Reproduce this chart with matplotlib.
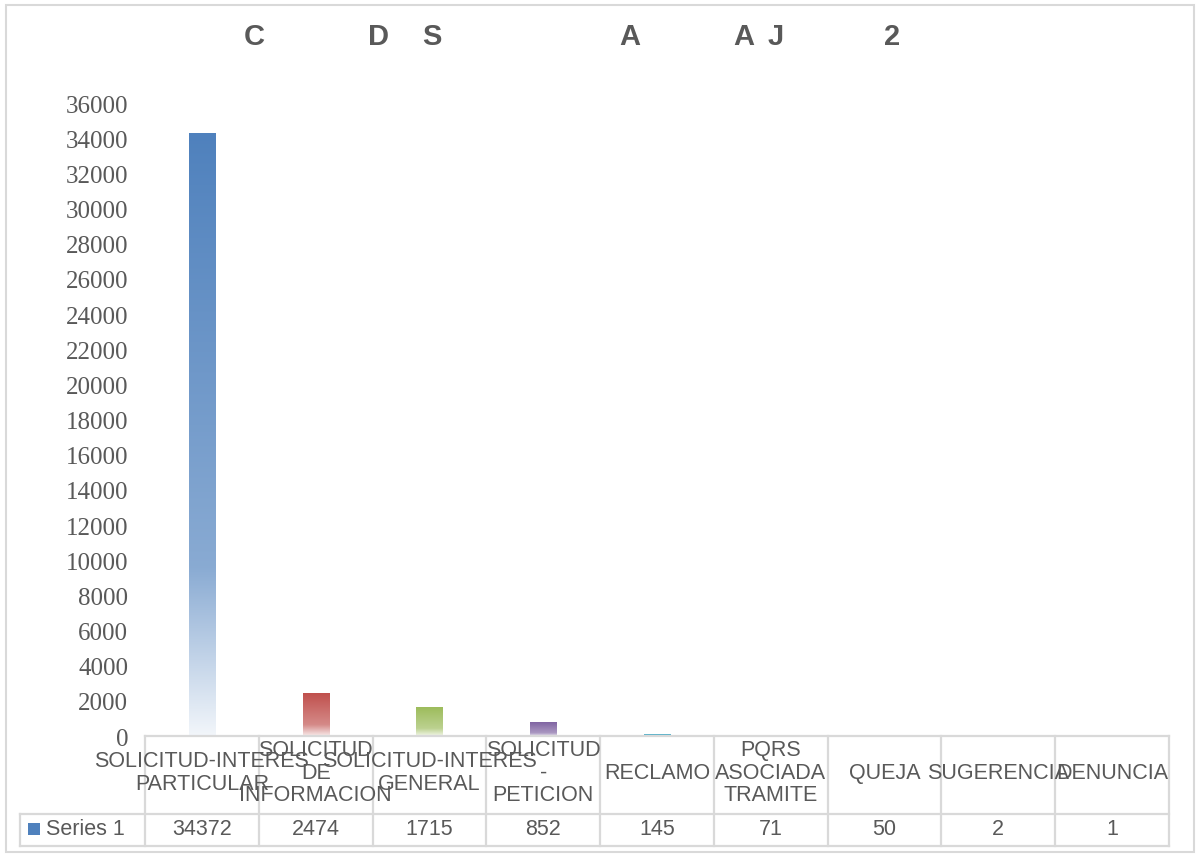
import numpy as np
import matplotlib
matplotlib.use("Agg")
import matplotlib.pyplot as plt
from matplotlib.patches import Rectangle
from matplotlib.colors import to_rgb
import matplotlib.transforms as mtransforms

# ---- data ----
categories = ["SOLICITUD-INTERES\nPARTICULAR", "SOLICITUD\nDE\nINFORMACION",
              "SOLICITUD-INTERES\nGENERAL", "SOLICITUD\n-\nPETICION", "RECLAMO",
              "PQRS\nASOCIADA\nTRAMITE", "QUEJA", "SUGERENCIA", "DENUNCIA"]
values = [34372, 2474, 1715, 852, 145, 71, 50, 2, 1]
series_name = "Series 1"
yticks = list(range(0, 36001, 2000))
title_letters = ["C", "D", "S", "A", "A", "J", "2"]

# ---- style ----
bar_colors = ["#4F81BD", "#C0504D", "#9BBB59", "#8064A2", "#4BACC6",
              "#F79646", "#2C4D75", "#772C2A", "#5F7530"]
title_x_px = [254, 378, 432, 630, 744, 776, 892]
TXT = "#595959"
GRID = "#D9D9D9"
W, H = 1196, 855

fig = plt.figure(figsize=(W / 100, H / 100), dpi=100)
fig.patch.set_facecolor("white")

def fx(px):
    return px / W

def fy(py):
    return 1 - py / H

ax_left, ax_right, ax_top, ax_bot = 145, 1169, 104, 737
ax = fig.add_axes([fx(ax_left), fy(ax_bot), fx(ax_right - ax_left), (ax_bot - ax_top) / H])
ax.set_facecolor("none")
n = len(values)
x = np.arange(n)
bw = 0.23

bars = ax.bar(x, values, width=bw, color="none", edgecolor="none")
for rect, c in zip(bars, bar_colors):
    base = np.array(to_rgb(c))
    t = np.linspace(0, 1, 256)  # 0 top -> 1 bottom
    f = np.interp(t, [0, 0.72, 1.0], [0.0, 0.33, 0.93])
    cols = base[None, :] * (1 - f[:, None]) + f[:, None]
    img = cols[:, None, :]
    x0 = rect.get_x()
    h = rect.get_height()
    im = ax.imshow(img, extent=[x0, x0 + rect.get_width(), 0, h], aspect="auto",
                   origin="upper", zorder=2, interpolation="bilinear")
    clip = Rectangle((x0, 0), rect.get_width(), h, transform=ax.transData)
    im.set_clip_path(clip)

ax.set_xlim(-0.5, n - 0.5)
ax.set_ylim(0, 36000)
ax.set_yticks(yticks)
ax.set_yticklabels([str(v) for v in yticks], fontfamily="Liberation Serif",
                   fontsize=18, color=TXT)
ax.tick_params(axis="y", length=0, pad=12)
ax.set_xticks([])
for s in ax.spines.values():
    s.set_visible(False)

# ---- data table ----
tr = mtransforms.blended_transform_factory(ax.transData, fig.transFigure)
row_top, row_mid, row_bot = 736, 814, 846
lw = 1.6
fig.add_artist(plt.Line2D([-0.5, n - 0.5], [fy(row_top)] * 2, transform=tr, color=GRID, lw=lw))
fig.add_artist(plt.Line2D([fx(20), fx(ax_right)], [fy(row_mid)] * 2, transform=fig.transFigure, color=GRID, lw=lw))
fig.add_artist(plt.Line2D([fx(20), fx(ax_right)], [fy(row_bot)] * 2, transform=fig.transFigure, color=GRID, lw=lw))
for i in range(n + 1):
    fig.add_artist(plt.Line2D([i - 0.5, i - 0.5], [fy(row_top), fy(row_bot)], transform=tr, color=GRID, lw=lw))
fig.add_artist(plt.Line2D([fx(20), fx(20)], [fy(row_mid), fy(row_bot)], transform=fig.transFigure, color=GRID, lw=lw))

for i, (lab, v) in enumerate(zip(categories, values)):
    fig.text(i, fy(773), lab, transform=tr, ha="center", va="center",
             fontsize=15.5, color=TXT, fontfamily="Liberation Sans", linespacing=1.1,
             multialignment="center")
    fig.text(i, fy(829), str(v), transform=tr, ha="center", va="center",
             fontsize=15.5, color=TXT, fontfamily="Liberation Sans")

fig.add_artist(Rectangle((fx(28), fy(835)), fx(12), 12 / H, transform=fig.transFigure,
                         facecolor=bar_colors[0], edgecolor="none"))
fig.text(fx(46), fy(829), series_name, ha="left", va="center", fontsize=15.5,
         color=TXT, fontfamily="Liberation Sans")

# ---- title ----
for letter, px in zip(title_letters, title_x_px):
    fig.text(fx(px), fy(37), letter, ha="center", va="center", fontsize=21,
             fontweight="bold", color=TXT, fontfamily="Liberation Sans")

# ---- outer border ----
fig.add_artist(Rectangle((fx(6), fy(852)), fx(1188), (852 - 5) / H,
                         transform=fig.transFigure, facecolor="none",
                         edgecolor=GRID, lw=1.5))

fig.savefig("out.png", dpi=100, facecolor="white")
